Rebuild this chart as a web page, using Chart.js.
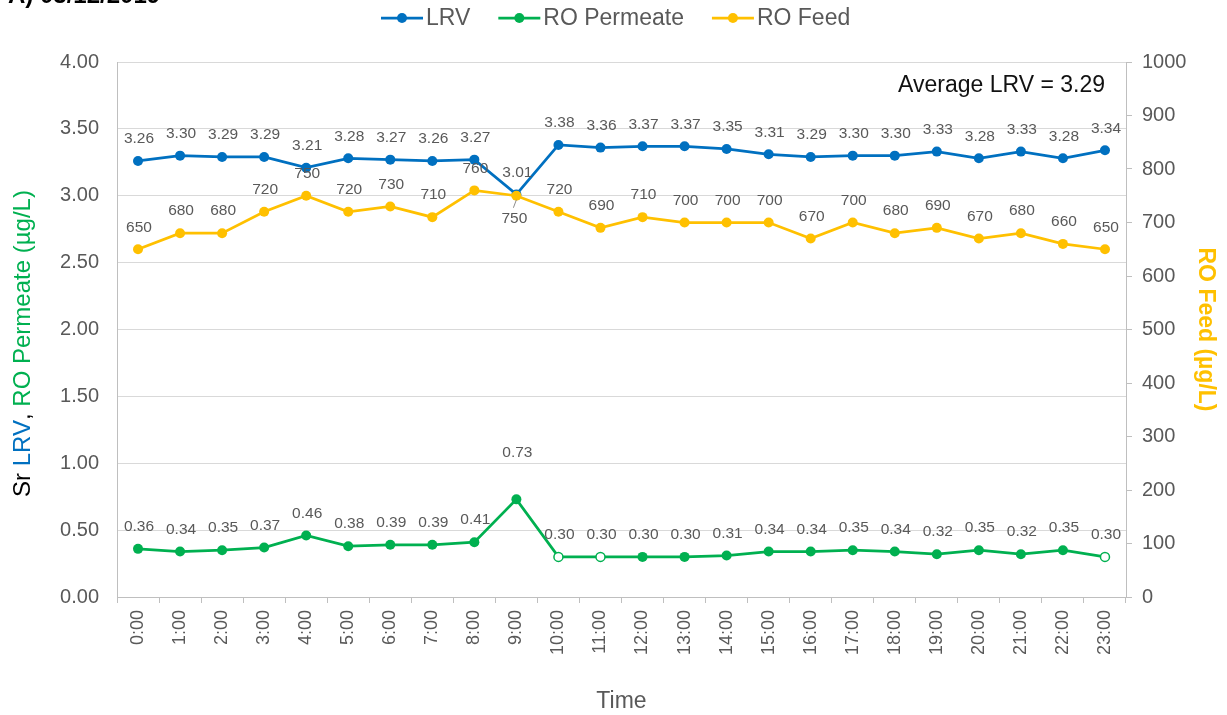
<!DOCTYPE html>
<html>
<head>
<meta charset="utf-8">
<script src="https://cdn.jsdelivr.net/npm/chart.js@4.4.1/dist/chart.umd.min.js"></script>
<style>
  html, body { margin: 0; padding: 0; background: #fff; }
  #wrap { position: relative; width: 1227px; height: 715px; }
</style>
</head>
<body>
<div id="wrap"><canvas id="chart"></canvas></div>
<script>
const hours = ["0:00", "1:00", "2:00", "3:00", "4:00", "5:00", "6:00", "7:00", "8:00", "9:00", "10:00", "11:00",
  "12:00", "13:00", "14:00", "15:00", "16:00", "17:00", "18:00", "19:00", "20:00", "21:00", "22:00", "23:00"];

const lrv = [3.26, 3.30, 3.29, 3.29, 3.21, 3.28, 3.27, 3.26, 3.27, 3.01, 3.38, 3.36,
  3.37, 3.37, 3.35, 3.31, 3.29, 3.30, 3.30, 3.33, 3.28, 3.33, 3.28, 3.34];

const roPermeate = [0.36, 0.34, 0.35, 0.37, 0.46, 0.38, 0.39, 0.39, 0.41, 0.73, 0.30, 0.30,
  0.30, 0.30, 0.31, 0.34, 0.34, 0.35, 0.34, 0.32, 0.35, 0.32, 0.35, 0.30];

const roFeed = [650, 680, 680, 720, 750, 720, 730, 710, 760, 750, 720, 690,
  710, 700, 700, 700, 670, 700, 680, 690, 670, 680, 660, 650];

const leftTicks = [0, 0.5, 1, 1.5, 2, 2.5, 3, 3.5, 4];
const rightTicks = [0, 100, 200, 300, 400, 500, 600, 700, 800, 900, 1000];

const averageLrv = 3.29;
const panelTitle = "A) 03/12/2019";

const FONT = "'Liberation Sans', Arial, sans-serif";
const GREY = "#595959";
const BLUE = "#0070C0";
const GREEN = "#00B050";
const GOLD = "#FFC000";

// points Excel drew hollow on the permeate line
const hollow = [10, 11, 23];

// data labels, legend and the loose texts around the plot
const extras = {
  id: "extras",
  afterDatasetsDraw(chart) {
    const ctx = chart.ctx;
    ctx.save();
    ctx.font = "15.5px " + FONT;
    ctx.fillStyle = GREY;
    ctx.textAlign = "center";
    ctx.textBaseline = "middle";
    chart.data.datasets.forEach((ds, i) => {
      const meta = chart.getDatasetMeta(i);
      meta.data.forEach((pt, j) => {
        const txt = ds.data[j].toFixed(ds.digits);
        const below = ds.labelBelow && ds.labelBelow.includes(j);
        const lift = (ds.labelLift && ds.labelLift[j]) || 22;
        if (below) {
          ctx.strokeStyle = "#8c8c8c";
          ctx.lineWidth = 1;
          ctx.beginPath();
          ctx.moveTo(pt.x, pt.y + 4);
          ctx.lineTo(pt.x - 3, pt.y + 12);
          ctx.stroke();
          ctx.fillText(txt, pt.x - 2, pt.y + 23);
        } else {
          ctx.fillText(txt, pt.x + 1, pt.y - lift);
        }
      });
    });
    ctx.restore();
  },
  afterDraw(chart) {
    const ctx = chart.ctx;
    const area = chart.chartArea;
    ctx.save();

    // panel title, cut off by the top edge as in the source figure
    ctx.font = "bold 24px " + FONT;
    ctx.fillStyle = "#000";
    ctx.textAlign = "left";
    ctx.textBaseline = "alphabetic";
    ctx.fillText(panelTitle, 8, 3);

    // legend
    ctx.font = "23px " + FONT;
    ctx.textBaseline = "middle";
    const items = chart.data.datasets.map(ds => ({ label: ds.label, color: ds.borderColor }));
    const mark = 42, gapText = 3, gapItem = 28;
    let x = 381;
    const ly = 18;
    items.forEach(it => {
      const w = ctx.measureText(it.label).width;
      ctx.strokeStyle = it.color;
      ctx.fillStyle = it.color;
      ctx.lineWidth = 2.75;
      ctx.beginPath();
      ctx.moveTo(x, ly);
      ctx.lineTo(x + mark, ly);
      ctx.stroke();
      ctx.beginPath();
      ctx.arc(x + mark / 2, ly, 5, 0, Math.PI * 2);
      ctx.fill();
      ctx.fillStyle = GREY;
      ctx.fillText(it.label, x + mark + gapText, ly + 1);
      x += mark + gapText + w + gapItem;
    });

    // average text
    ctx.font = "23px " + FONT;
    ctx.fillStyle = "#111";
    ctx.textAlign = "right";
    ctx.fillText("Average LRV = " + averageLrv.toFixed(2), area.right - 21, area.top + 24);

    // multi-coloured left axis title
    const parts = [["Sr ", "#000"], ["LRV", BLUE], [", ", "#000"], ["RO Permeate (\u00b5g/L)", GREEN]];
    ctx.font = "24px " + FONT;
    ctx.textAlign = "left";
    const width = parts.reduce((a, p) => a + ctx.measureText(p[0]).width, 0);
    ctx.translate(23, (area.top + area.bottom) / 2 + 14);
    ctx.rotate(-Math.PI / 2);
    let tx = -width / 2;
    parts.forEach(([t, c]) => {
      ctx.fillStyle = c;
      ctx.fillText(t, tx, 0);
      tx += ctx.measureText(t).width;
    });
    ctx.restore();
  }
};

new Chart(document.getElementById("chart"), {
  type: "line",
  data: {
    labels: hours,
    datasets: [
      {
        label: "LRV",
        data: lrv,
        yAxisID: "y",
        digits: 2,
        borderColor: BLUE,
        backgroundColor: BLUE,
        pointBackgroundColor: BLUE,
        borderWidth: 2.75,
        pointRadius: 5,
        pointBorderWidth: 0,
        order: 2
      },
      {
        label: "RO Permeate",
        data: roPermeate,
        yAxisID: "y",
        digits: 2,
        labelLift: { 9: 47 },
        borderColor: GREEN,
        backgroundColor: GREEN,
        pointBackgroundColor: c => hollow.includes(c.dataIndex) ? "#fff" : GREEN,
        pointBorderWidth: c => hollow.includes(c.dataIndex) ? 1.5 : 0,
        pointRadius: c => hollow.includes(c.dataIndex) ? 4.5 : 5,
        borderWidth: 2.75,
        order: 1
      },
      {
        label: "RO Feed",
        data: roFeed,
        yAxisID: "y2",
        digits: 0,
        labelBelow: [9],
        borderColor: GOLD,
        backgroundColor: GOLD,
        pointBackgroundColor: GOLD,
        borderWidth: 2.75,
        pointRadius: 5,
        pointBorderWidth: 0,
        order: 0
      }
    ]
  },
  options: {
    responsive: true,
    maintainAspectRatio: false,
    animation: false,
    layout: { padding: { top: 62, left: 0, right: 0, bottom: 0 } },
    plugins: {
      legend: { display: false },
      tooltip: { enabled: false }
    },
    scales: {
      x: {
        offset: true,
        grid: { offset: true, drawOnChartArea: false, color: "#bfbfbf", tickLength: 6 },
        border: { color: "#bfbfbf" },
        ticks: {
          autoSkip: false,
          maxRotation: 90,
          minRotation: 90,
          padding: 7,
          color: GREY,
          font: { family: FONT, size: 18 }
        },
        title: {
          display: true,
          text: "Time",
          color: GREY,
          font: { family: FONT, size: 23 },
          padding: { top: 0, bottom: 0 }
        },
        afterFit: s => { s.height = 118; }
      },
      y: {
        position: "left",
        min: 0,
        max: 4,
        afterBuildTicks: s => { s.ticks = leftTicks.map(v => ({ value: v })); },
        grid: { color: "#d9d9d9", drawTicks: false },
        border: { color: "#bfbfbf" },
        ticks: {
          padding: 18,
          color: GREY,
          font: { family: FONT, size: 20 },
          callback: v => v.toFixed(2)
        },
        afterFit: s => { s.width = 117; }
      },
      y2: {
        position: "right",
        min: 0,
        max: 1000,
        afterBuildTicks: s => { s.ticks = rightTicks.map(v => ({ value: v })); },
        grid: { drawOnChartArea: false, color: "#bfbfbf", tickLength: 6 },
        border: { color: "#bfbfbf" },
        ticks: {
          padding: 10,
          color: GREY,
          font: { family: FONT, size: 20 },
          callback: v => String(v)
        },
        title: {
          display: true,
          text: "RO Feed (\u00b5g/L)",
          color: GOLD,
          font: { family: FONT, size: 23, weight: "bold" },
          padding: { top: 8, bottom: 0 }
        },
        afterFit: s => { s.width = 101; }
      }
    }
  },
  plugins: [extras]
});
</script>
</body>
</html>
